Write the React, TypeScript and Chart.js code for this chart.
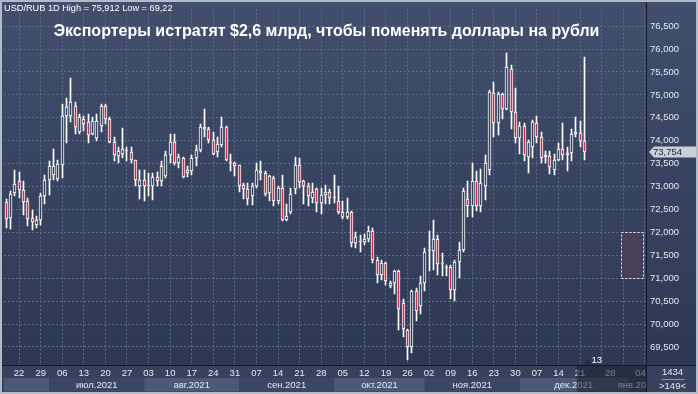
import React, { useEffect, useRef } from 'react';
import { Chart, registerables } from 'chart.js';

Chart.register(...registerables);

// ---- data (USD/RUB daily candles, 17.06.2021 – 22.12.2021) ----
const TRADING_DAYS = 135;
const FUTURE_DAYS = 14;

const open = [
  72.66, 72.31, 72.85, 73.12, 72.92, 72.69, 72.31, 72.16, 72.26, 72.80,
  73.15, 73.26, 73.17, 73.47, 74.55, 74.54, 74.76, 74.20, 74.48, 74.41,
  74.15, 74.05, 74.33, 74.76, 74.48, 73.97, 73.66, 73.72, 73.78, 73.76,
  73.57, 73.02, 73.15, 73.01, 73.01, 73.21, 73.12, 73.22, 73.69, 73.97,
  73.51, 73.62, 73.37, 73.33, 73.62, 73.80, 74.26, 74.26, 74.01, 73.76,
  73.90, 74.30, 73.52, 73.52, 73.47, 73.04, 72.94, 72.80, 73.01, 73.29,
  73.29, 72.87, 73.19, 72.69, 72.97, 72.26, 72.44, 72.94, 73.47, 73.12,
  73.01, 72.74, 72.94, 72.65, 72.81, 72.88, 72.76, 72.69, 72.45, 72.33,
  72.45, 71.76, 71.79, 71.79, 71.86, 72.02, 71.40, 71.08, 71.33, 70.83,
  70.90, 71.15, 70.47, 69.87, 69.50, 70.73, 70.40, 70.90, 71.59, 71.59,
  71.86, 71.30, 71.24, 71.25, 70.75, 71.36, 71.61, 72.72, 72.58, 73.12,
  72.58, 73.01, 73.37, 75.05, 74.38, 75.01, 74.69, 75.56, 74.62, 74.05,
  74.33, 73.65, 73.87, 74.38, 74.08, 73.66, 73.67, 73.37, 73.57, 73.83,
  73.69, 73.74, 74.15, 74.17, 74.00,
];
const high = [
  72.72, 72.90, 73.37, 73.31, 73.12, 72.76, 72.48, 72.35, 72.87, 73.26,
  73.55, 73.81, 73.58, 74.81, 74.94, 75.36, 74.84, 74.58, 74.54, 74.58,
  74.52, 74.58, 74.80, 74.80, 74.52, 74.09, 73.87, 74.28, 73.87, 73.87,
  73.58, 73.37, 73.36, 73.29, 73.29, 73.32, 73.55, 73.77, 74.15, 74.15,
  73.72, 73.65, 73.44, 73.69, 73.90, 74.37, 74.69, 74.30, 74.19, 74.08,
  74.51, 74.33, 73.70, 73.53, 73.48, 73.08, 73.07, 73.08, 73.51, 73.55,
  73.34, 73.26, 73.22, 73.02, 73.26, 72.61, 72.97, 73.65, 73.62, 73.15,
  73.08, 73.08, 72.97, 72.97, 73.04, 72.95, 73.26, 73.01, 72.69, 72.74,
  72.47, 72.01, 71.94, 71.97, 72.13, 72.09, 71.47, 71.40, 71.36, 70.93,
  71.18, 71.18, 70.54, 69.89, 70.75, 70.79, 71.04, 71.65, 72.02, 72.26,
  71.94, 71.54, 71.28, 71.29, 71.40, 71.79, 72.97, 73.12, 73.51, 73.34,
  73.38, 73.69, 75.10, 75.29, 75.07, 75.05, 75.912, 75.66, 75.16, 74.40,
  74.38, 74.01, 74.45, 74.55, 74.19, 73.78, 73.78, 73.72, 73.94, 74.38,
  73.87, 74.26, 74.51, 74.43, 75.83,
];
const low = [
  72.09, 72.08, 72.80, 72.76, 72.37, 72.13, 72.05, 72.09, 72.16, 72.61,
  72.81, 73.14, 73.12, 73.19, 73.94, 74.41, 74.15, 74.15, 74.22, 73.94,
  74.13, 74.00, 74.20, 74.37, 73.94, 73.55, 73.51, 73.62, 73.55, 73.51,
  73.01, 72.72, 72.69, 72.80, 72.71, 73.02, 73.01, 73.19, 73.51, 73.47,
  73.40, 73.19, 73.21, 73.26, 73.45, 73.76, 74.08, 73.94, 73.69, 73.65,
  73.87, 73.55, 73.35, 73.22, 72.89, 72.72, 72.59, 72.59, 72.97, 73.15,
  72.80, 72.69, 72.58, 72.61, 72.24, 72.24, 72.40, 72.83, 72.97, 72.61,
  72.58, 72.65, 72.45, 72.40, 72.61, 72.61, 72.65, 72.40, 72.29, 72.29,
  71.68, 71.65, 71.58, 71.72, 71.79, 71.33, 70.90, 70.97, 70.86, 70.79,
  70.65, 69.86, 69.72, 69.22, 69.36, 70.07, 70.22, 70.72, 71.15, 71.18,
  71.08, 71.04, 71.04, 70.54, 70.50, 71.00, 71.58, 72.33, 72.33, 72.47,
  72.44, 72.71, 73.25, 74.08, 74.12, 74.48, 74.67, 74.26, 73.94, 73.72,
  73.55, 73.29, 73.62, 73.94, 73.51, 73.51, 73.28, 73.26, 73.55, 73.58,
  73.33, 73.55, 74.08, 73.87, 73.58,
];
const close = [
  72.29, 72.83, 73.06, 72.92, 72.66, 72.29, 72.22, 72.26, 72.80, 73.15,
  73.44, 73.45, 73.49, 74.55, 74.73, 74.84, 74.30, 74.52, 74.37, 74.12,
  74.44, 74.44, 74.76, 74.48, 73.98, 73.69, 73.77, 73.83, 73.77, 73.57,
  73.15, 73.14, 73.01, 73.04, 73.21, 73.12, 73.44, 73.69, 73.97, 73.51,
  73.65, 73.21, 73.29, 73.62, 73.80, 74.30, 74.30, 74.01, 73.72, 73.92,
  74.30, 73.58, 73.51, 73.45, 73.01, 72.94, 72.72, 73.01, 73.37, 73.35,
  72.83, 73.22, 72.69, 72.97, 72.26, 72.36, 72.83, 73.47, 73.10, 73.01,
  72.80, 72.89, 72.65, 72.81, 72.88, 72.76, 72.75, 72.45, 72.33, 72.45,
  71.76, 71.90, 71.80, 71.86, 72.04, 71.40, 71.08, 71.33, 70.93, 70.90,
  71.15, 70.32, 69.90, 69.50, 70.72, 70.29, 70.90, 71.58, 71.60, 71.86,
  71.30, 71.34, 71.22, 70.75, 71.36, 71.61, 72.90, 72.58, 73.12, 72.58,
  73.08, 73.51, 75.07, 74.38, 75.01, 74.69, 75.60, 74.62, 74.05, 74.33,
  73.69, 73.97, 74.40, 74.08, 73.62, 73.65, 73.42, 73.58, 73.83, 73.69,
  73.74, 74.15, 74.19, 74.00, 73.754,
];

const yTicks = [69.5, 70, 70.5, 71, 71.5, 72, 72.5, 73, 73.5, 74, 74.5, 75, 75.5, 76, 76.5];
const monthNames = ['янв.', 'фев.', 'мар.', 'апр.', 'май.', 'июн.', 'июл.', 'авг.', 'сен.', 'окт.', 'ноя.', 'дек.'];
const lastPrice = 73.754;
const zoneFromIdx = 142;
const zoneToIdx = 147;
const zoneHigh = 72.0;
const zoneLow = 71.0;
const headerText = 'USD/RUB 1D High = 75,912 Low = 69,22';
const titleText = 'Экспортеры истратят $2,6 млрд, чтобы поменять доллары на рубли';
const countdownText = '13';
const cornerTop = '1434';
const cornerBottom = '>149<';

// calendar: trading days (weekdays) from 17.06.2021, then calendar days ahead
function buildDates(): Date[] {
  const out: Date[] = [];
  const d = new Date(Date.UTC(2021, 5, 17));
  while (out.length < TRADING_DAYS) {
    const wd = d.getUTCDay();
    if (wd !== 0 && wd !== 6) out.push(new Date(d.getTime()));
    d.setUTCDate(d.getUTCDate() + 1);
  }
  for (let i = 0; i < FUTURE_DAYS; i++) {
    out.push(new Date(d.getTime()));
    d.setUTCDate(d.getUTCDate() + 1);
  }
  return out;
}

const FONT = '"Liberation Sans", Arial, sans-serif';
const RED = '#c4304f';
const HOLLOW = '#35415e';
const GRID = '#5a6a8a';
const TEXT = '#e4e9f0';

export default function App() {
  const ref = useRef<HTMLCanvasElement>(null);

  useEffect(() => {
    const canvas = ref.current;
    if (!canvas) return;
    const dates = buildDates();
    const labels = dates.map((d) => d.toISOString().slice(0, 10));
    const total = labels.length;

    const wickData: any[] = [];
    const bodyData: any[] = [];
    const bodyColors: string[] = [];
    for (let i = 0; i < total; i++) {
      if (i < open.length) {
        wickData.push([low[i], high[i]]);
        bodyData.push([open[i], close[i]]);
        bodyColors.push(close[i] < open[i] ? RED : HOLLOW);
      } else {
        wickData.push(null);
        bodyData.push(null);
        bodyColors.push(HOLLOW);
      }
    }

    const pad2 = (n: number) => (n < 10 ? '0' + n : String(n));

    // snap bar elements to whole pixels for crisp candles
    const snap = {
      id: 'snap',
      beforeDatasetsDraw(chart: any) {
        chart.data.datasets.forEach((_d: any, di: number) => {
          const meta = chart.getDatasetMeta(di);
          meta.data.forEach((el: any) => {
            if (el == null || el.x == null || isNaN(el.x)) return;
            el.x = Math.floor(el.x) + 0.5;
            if (!isNaN(el.y)) el.y = Math.round(el.y);
            if (!isNaN(el.base)) el.base = Math.round(el.base);
          });
        });
      },
    };

    const decor = {
      id: 'decor',
      beforeDraw(chart: any) {
        const { ctx, chartArea: ca, scales } = chart;
        const W = chart.width;
        const H = chart.height;
        const xs = scales.x;
        ctx.save();
        const g = ctx.createLinearGradient(0, 0, 0, H);
        g.addColorStop(0, '#414f6d');
        g.addColorStop(1, '#2b3651');
        ctx.fillStyle = g;
        ctx.fillRect(0, 0, W, H);
        // x axis rows
        ctx.fillStyle = '#35415d';
        ctx.fillRect(0, ca.bottom, W, H - ca.bottom);
        // month bands
        const starts: number[] = [];
        for (let i = 0; i < total; i++) {
          if (i === 0 || dates[i].getUTCMonth() !== dates[i - 1].getUTCMonth()) starts.push(i);
        }
        ctx.font = '9.5px ' + FONT;
        ctx.textAlign = 'center';
        ctx.textBaseline = 'middle';
        for (let k = 0; k < starts.length; k++) {
          const si = starts[k];
          const x0 = si === 0 ? ca.left : xs.getPixelForValue(si);
          const x1 = k + 1 < starts.length ? xs.getPixelForValue(starts[k + 1]) : ca.right;
          const m = dates[si].getUTCMonth();
          ctx.fillStyle = m % 2 === 1 ? '#4b5977' : '#3a4663';
          ctx.fillRect(x0, 378, Math.min(x1, ca.right) - x0, 13.5);
          if (si > 0) {
            ctx.save();
            ctx.beginPath();
            ctx.rect(ca.left, 376, ca.right - ca.left, 17);
            ctx.clip();
            ctx.fillStyle = TEXT;
            ctx.fillText(monthNames[m] + dates[si].getUTCFullYear(), (x0 + x1) / 2, 385);
            ctx.restore();
          }
        }
        ctx.restore();
      },
      afterDraw(chart: any) {
        const { ctx, chartArea: ca, scales } = chart;
        const W = chart.width;
        const H = chart.height;
        const xs = scales.x;
        const ys = scales.y;
        ctx.save();
        // forecast zone
        const zx0 = xs.getPixelForValue(zoneFromIdx) + 2;
        const zx1 = xs.getPixelForValue(zoneToIdx) + 2;
        const zy0 = ys.getPixelForValue(zoneHigh);
        const zy1 = ys.getPixelForValue(zoneLow);
        ctx.fillStyle = '#4a3e5d';
        ctx.fillRect(zx0, zy0, zx1 - zx0, zy1 - zy0);
        ctx.strokeStyle = '#ffffff';
        ctx.lineWidth = 1;
        ctx.setLineDash([2, 2]);
        ctx.strokeRect(Math.round(zx0) + 0.5, Math.round(zy0) + 0.5, Math.round(zx1 - zx0), Math.round(zy1 - zy0));
        ctx.setLineDash([]);

        // future overlay in the time axis
        const ox = xs.getPixelForValue(132) + 1;
        ctx.fillStyle = 'rgba(24,31,48,0.55)';
        ctx.fillRect(ox, ca.bottom + 1, ca.right - ox, 391 - ca.bottom);
        ctx.beginPath();
        ctx.moveTo(ox + 7, ca.bottom);
        ctx.lineTo(ox + 11, ca.bottom - 7);
        ctx.lineTo(ox + 14, ca.bottom);
        ctx.closePath();
        ctx.fill();
        ctx.fillStyle = '#ffffff';
        ctx.font = '9.5px ' + FONT;
        ctx.textAlign = 'center';
        ctx.textBaseline = 'middle';
        ctx.fillText(countdownText, ox + 20, ca.bottom - 5);

        // separators
        ctx.strokeStyle = '#121826';
        ctx.beginPath();
        ctx.moveTo(Math.round(ca.right) - 0.5, 2);
        ctx.lineTo(Math.round(ca.right) - 0.5, H - 2);
        ctx.moveTo(2, Math.round(ca.bottom) + 0.5);
        ctx.lineTo(W - 2, Math.round(ca.bottom) + 0.5);
        ctx.stroke();

        // last price label
        const py = ys.getPixelForValue(lastPrice);
        const bx = ca.right + 2;
        ctx.fillStyle = '#c9d0d9';
        ctx.beginPath();
        ctx.moveTo(bx, py);
        ctx.lineTo(bx + 5, py - 5.5);
        ctx.lineTo(W - 1, py - 5.5);
        ctx.lineTo(W - 1, py + 5.5);
        ctx.lineTo(bx + 5, py + 5.5);
        ctx.closePath();
        ctx.fill();
        ctx.fillStyle = '#1b2233';
        ctx.textAlign = 'left';
        ctx.fillText(lastPrice.toFixed(3).replace('.', ','), bx + 4, py + 0.5);

        // corner counters
        const cx = (ca.right + W) / 2;
        ctx.fillStyle = TEXT;
        ctx.textAlign = 'center';
        ctx.fillText(cornerTop, cx, 372.5);
        ctx.fillText(cornerBottom, cx, 386);
        ctx.strokeStyle = '#8d98ab';
        ctx.beginPath();
        ctx.moveTo(cx - 11, 379.5);
        ctx.lineTo(cx + 12, 379.5);
        ctx.stroke();

        // outer frame
        ctx.strokeStyle = '#b3bbc7';
        ctx.lineWidth = 2;
        ctx.strokeRect(1, 1, W - 2, H - 2);
        ctx.restore();
      },
    };

    const chart = new Chart(canvas, {
      type: 'bar',
      data: {
        labels,
        datasets: [
          {
            label: 'wick',
            data: wickData,
            backgroundColor: '#ffffff',
            barThickness: 1,
            grouped: false,
            order: 2,
          } as any,
          {
            label: 'body',
            data: bodyData,
            backgroundColor: bodyColors,
            borderColor: '#ffffff',
            borderWidth: 1,
            borderSkipped: false,
            barThickness: 3,
            minBarLength: 1.5,
            grouped: false,
            order: 1,
          } as any,
        ],
      },
      options: {
        animation: false,
        responsive: false,
        devicePixelRatio: 1,
        layout: { padding: { left: 4, top: 3, right: 0, bottom: 0 } },
        plugins: {
          legend: { display: false },
          tooltip: { enabled: false },
          title: { display: false },
        },
        scales: {
          x: {
            type: 'category',
            offset: true,
            grid: {
              offset: false,
              drawTicks: false,
              lineWidth: 1,
              color: (c: any) => (c.index % 5 === 3 ? GRID : 'rgba(0,0,0,0)'),
            },
            border: { display: false, dash: [2, 2] },
            ticks: {
              autoSkip: false,
              maxRotation: 0,
              minRotation: 0,
              padding: 3,
              color: TEXT,
              font: { family: FONT, size: 9.5 },
              callback: (_v: any, i: number) => {
                const d = dates[i];
                return d && d.getUTCDay() === 2 ? pad2(d.getUTCDate()) : '';
              },
            },
            afterFit: (s: any) => {
              s.height = 29;
            },
          },
          y: {
            type: 'linear',
            position: 'right',
            min: 69.107,
            max: 76.88,
            afterBuildTicks: (s: any) => {
              s.ticks = yTicks.map((v) => ({ value: v }));
            },
            grid: { color: GRID, drawTicks: false, lineWidth: 1 },
            border: { display: false, dash: [2, 2] },
            ticks: {
              padding: 3,
              color: TEXT,
              font: { family: FONT, size: 9.5 },
              callback: (v: any) => Number(v).toFixed(3).replace('.', ','),
            },
            afterFit: (s: any) => {
              s.width = 51;
            },
          },
        },
      } as any,
      plugins: [snap, decor],
    });
    return () => chart.destroy();
  }, []);

  return (
    <div
      style={{
        position: 'fixed',
        left: 0,
        top: 0,
        width: 698,
        height: 394,
        overflow: 'hidden',
        background: '#2f3a55',
      }}
    >
      <canvas ref={ref} width={698} height={394} style={{ display: 'block', width: 698, height: 394 }} />
      <div
        style={{
          position: 'absolute',
          left: 4,
          top: 2,
          font: '9.2px ' + FONT,
          lineHeight: '12px',
          color: '#ffffff',
          whiteSpace: 'nowrap',
        }}
      >
        {headerText}
      </div>
      <div
        style={{
          position: 'absolute',
          left: 0,
          top: 22,
          width: 653,
          textAlign: 'center',
          font: 'bold 16px ' + FONT,
          lineHeight: '18px',
          color: '#ffffff',
          whiteSpace: 'nowrap',
        }}
      >
        {titleText}
      </div>
    </div>
  );
}
